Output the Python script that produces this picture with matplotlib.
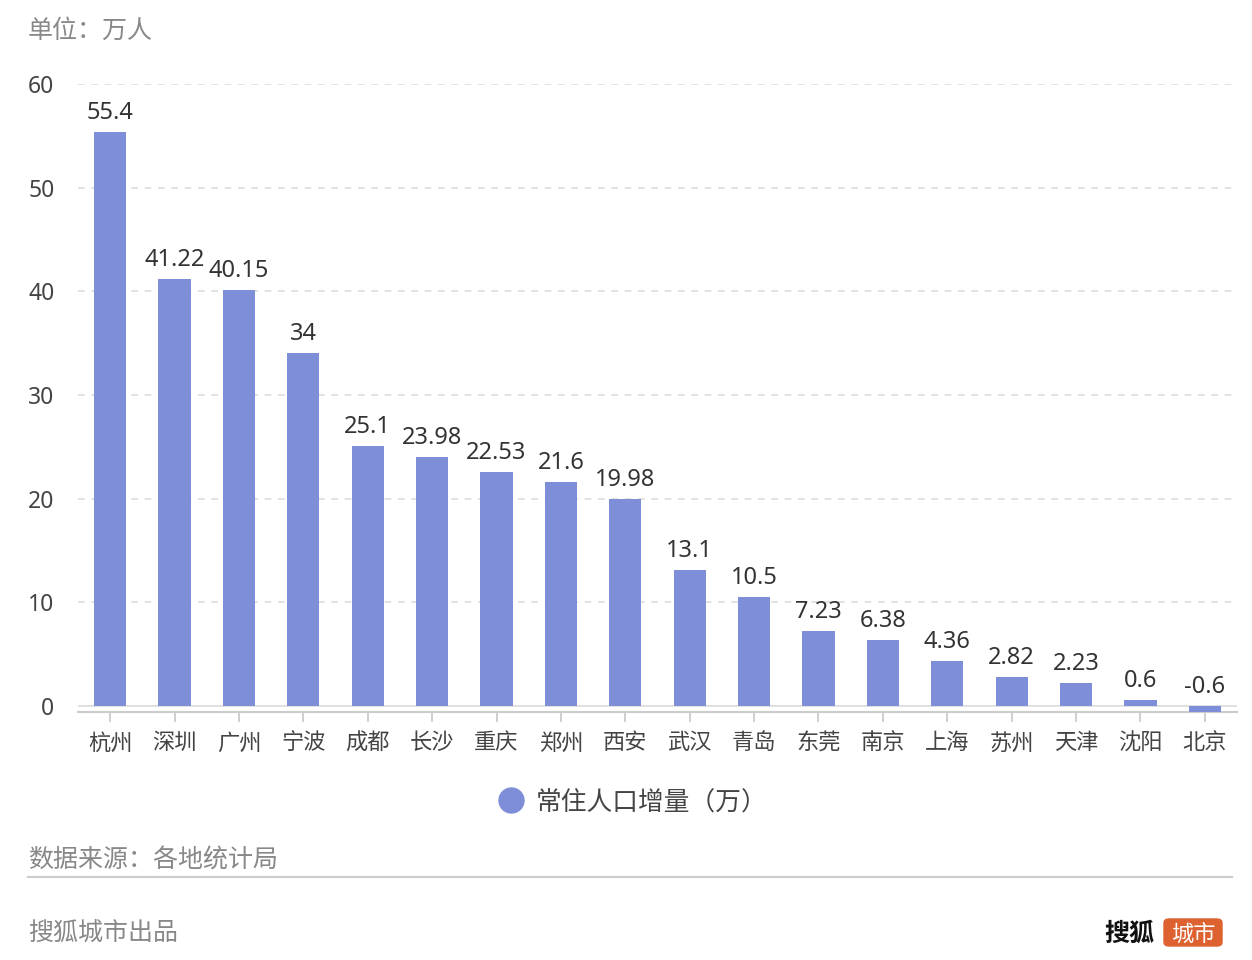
import numpy as np
import matplotlib
matplotlib.use("Agg")
import matplotlib.pyplot as plt
from matplotlib.patches import FancyBboxPatch

plt.rcParams['font.family'] = ['Noto Sans CJK SC', 'DejaVu Sans']
num_font = ['Noto Sans', 'DejaVu Sans']

# data
cities = ['杭州', '深圳', '广州', '宁波', '成都', '长沙', '重庆', '郑州', '西安',
          '武汉', '青岛', '东莞', '南京', '上海', '苏州', '天津', '沈阳', '北京']
growth = [55.4, 41.22, 40.15, 34, 25.1, 23.98, 22.53, 21.6, 19.98,
          13.1, 10.5, 7.23, 6.38, 4.36, 2.82, 2.23, 0.6, -0.6]
value_labels = ['55.4', '41.22', '40.15', '34', '25.1', '23.98', '22.53', '21.6', '19.98',
                '13.1', '10.5', '7.23', '6.38', '4.36', '2.82', '2.23', '0.6', '-0.6']
yticks = [0, 10, 20, 30, 40, 50, 60]

bar_color = '#7f8ed9'
W, H = 1252, 960

fig = plt.figure(figsize=(W / 100, H / 100), dpi=100)
ax = fig.add_axes([78 / W, 1 - 712 / H, (1237 - 78) / W, (712 - 84) / H])

x = np.arange(len(cities))
ax.bar(x, growth, width=0.5, color=bar_color, zorder=3)

for xi, v, lab in zip(x, growth, value_labels):
    ax.annotate(lab, (xi, max(v, 0)), xytext=(0, 5), textcoords='offset points',
                ha='center', va='bottom', fontsize=17, color='#333333', family=num_font)

ax.set_xlim(-0.5, len(cities) - 0.5)
ax.set_ylim(-0.6, 60)
ax.set_yticks(yticks)
ax.set_yticklabels([str(t) for t in yticks], fontsize=16.5, color='#444444', family=num_font)
ax.set_xticks(x)
ax.set_xticklabels(cities, fontsize=16, color='#444444')

for t in yticks[1:]:
    ax.axhline(t, color='#dddddd', lw=1.2, ls=(0, (4, 4)), zorder=1)
ax.axhline(0, color='#dddddd', lw=1.3, zorder=1)

for s in ['top', 'right', 'left']:
    ax.spines[s].set_visible(False)
ax.spines['bottom'].set_color('#cccccc')
ax.spines['bottom'].set_linewidth(1.5)
ax.tick_params(axis='y', length=0, pad=17)
ax.tick_params(axis='x', length=7, width=1.3, color='#cccccc', pad=7)

# header and footer
fig.text(28 / W, 1 - 31 / H, '单位：万人', fontsize=18, color='#888888', va='center', ha='left')

fig.add_artist(plt.Line2D([511 / W], [1 - 800 / H], marker='o', markersize=18,
                          color=bar_color, transform=fig.transFigure))
fig.text(536 / W, 1 - 804 / H, '常住人口增量（万）', fontsize=18.5, color='#444444',
         va='center', ha='left')

fig.text(28 / W, 1 - 861 / H, '数据来源：各地统计局', fontsize=18, color='#888888',
         va='center', ha='left')
fig.add_artist(plt.Line2D([28 / W, 1232 / W], [1 - 877 / H, 1 - 877 / H],
                          color='#cccccc', lw=1.5, transform=fig.transFigure))
fig.text(28 / W, 1 - 933 / H, '搜狐城市出品', fontsize=18, color='#888888',
         va='center', ha='left')

# logo
fig.text(1104 / W, 1 - 934 / H, '搜狐', fontsize=18, color='#111111', fontweight='bold',
         va='center', ha='left')
fig.patches.append(FancyBboxPatch((1164 / W, 1 - 946 / H), 58 / W, 27 / H,
                                  boxstyle='round,pad=0,rounding_size=0.004',
                                  transform=fig.transFigure, color='#dd6230', figure=fig))
fig.text(1193 / W, 1 - 934 / H, '城市', fontsize=16, color='white', va='center', ha='center')

fig.savefig('out.png', dpi=100)
